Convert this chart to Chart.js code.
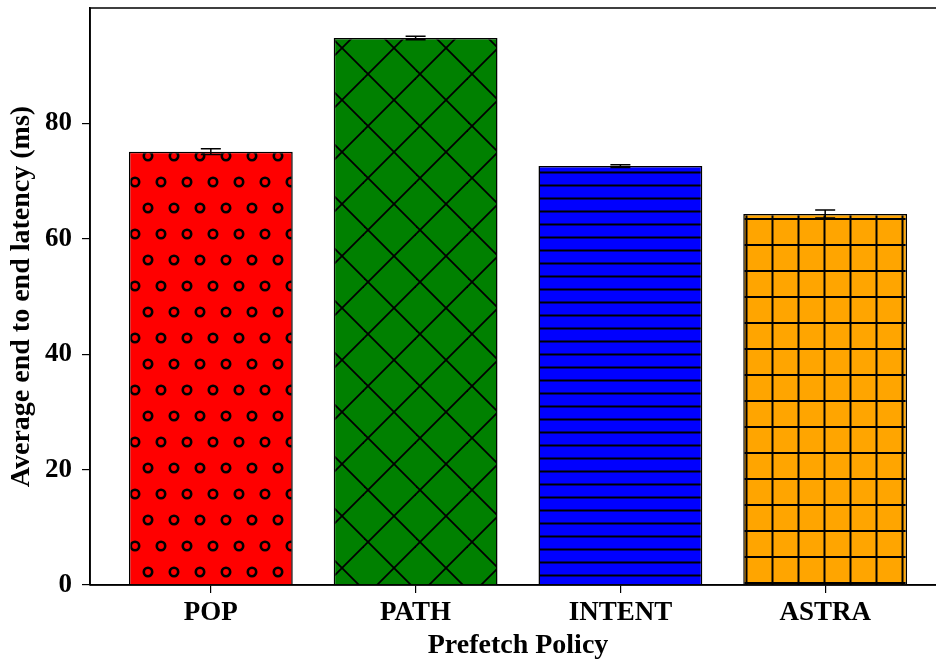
<!DOCTYPE html>
<html>
<head>
<meta charset="utf-8">
<script src="https://cdn.jsdelivr.net/npm/chart.js@4.4.1/dist/chart.umd.min.js"></script>
<style>
html,body{margin:0;padding:0;background:#fff;overflow:hidden;}
#wrap{width:960px;height:660px;}
</style>
</head>
<body>
<div id="wrap"><canvas id="c" width="960" height="660"></canvas></div>
<script>
const categories = ["POP", "PATH", "INTENT", "ASTRA"];
const latency = [75.1, 94.8, 72.6, 64.3];
const latencyErr = [0.5, 0.3, 0.25, 0.7];
const yTicks = [0, 20, 40, 60, 80];
const barColors = ["#ff0000", "#008000", "#0000ff", "#ffa500"];

function tile(w, h, bg, draw) {
  const c = document.createElement('canvas');
  c.width = w; c.height = h;
  const g = c.getContext('2d');
  g.fillStyle = bg; g.fillRect(0, 0, w, h);
  g.strokeStyle = '#000'; g.lineWidth = 2;
  draw(g, w, h);
  return document.getElementById('c').getContext('2d').createPattern(c, 'repeat');
}
function circles(g, w, h) {
  g.lineWidth = 2.6;
  const pts = [[18, 0], [5, 26]];
  for (const [px, py] of pts)
    for (let dx = -w; dx <= w; dx += w)
      for (let dy = -h; dy <= h; dy += h) {
        g.beginPath(); g.arc(px + dx, py + dy, 4.2, 0, Math.PI * 2); g.stroke();
      }
}
function cross(g, w, h) {
  g.lineWidth = 1.8;
  for (let k = -3; k <= 3; k++) {
    g.beginPath(); g.moveTo(-20, -20 + 18 + 52 * k); g.lineTo(80, 80 + 18 + 52 * k); g.stroke();
    g.beginPath(); g.moveTo(-20, 20 + 26 + 52 * k); g.lineTo(80, -80 + 26 + 52 * k); g.stroke();
  }
}
function hlines(g, w, h) {
  g.beginPath(); g.moveTo(0, 3.5); g.lineTo(w, 3.5); g.stroke();
}
function grid(g, w, h) {
  g.beginPath(); g.moveTo(18.5, 0); g.lineTo(18.5, h); g.stroke();
  g.beginPath(); g.moveTo(0, 11); g.lineTo(w, 11); g.stroke();
}
const patterns = [
  tile(26, 52, barColors[0], circles),
  tile(52, 52, barColors[1], cross),
  tile(13, 13, barColors[2], hlines),
  tile(26, 26, barColors[3], grid)
];

const errorBars = {
  id: 'errorBars',
  afterDatasetsDraw(chart) {
    const ctx = chart.ctx, xs = chart.scales.x, ys = chart.scales.y;
    ctx.save();
    ctx.strokeStyle = '#000'; ctx.lineWidth = 1.5;
    latency.forEach((v, i) => {
      const x = xs.getPixelForValue(i);
      const t = ys.getPixelForValue(v + latencyErr[i]);
      const b = ys.getPixelForValue(v - latencyErr[i]);
      ctx.beginPath();
      ctx.moveTo(x, t); ctx.lineTo(x, b);
      ctx.moveTo(x - 10, t); ctx.lineTo(x + 10, t);
      ctx.moveTo(x - 10, b); ctx.lineTo(x + 10, b);
      ctx.stroke();
    });
    ctx.restore();
  }
};
const frame = {
  id: 'frame',
  afterDraw(chart) {
    const a = chart.chartArea, ctx = chart.ctx;
    ctx.save();
    ctx.strokeStyle = '#000'; ctx.lineWidth = 1.6;
    ctx.beginPath();
    ctx.moveTo(a.left, a.bottom); ctx.lineTo(a.left, a.top); ctx.lineTo(a.right, a.top); ctx.lineTo(a.right, a.bottom); ctx.lineTo(a.left, a.bottom);
    ctx.stroke();
    ctx.restore();
  }
};
function noPad(s) { s.paddingTop = 0; s.paddingBottom = 0; s.paddingLeft = 0; s.paddingRight = 0; }

const font = 'Liberation Serif';
new Chart(document.getElementById('c'), {
  type: 'bar',
  data: {
    datasets: [{
      data: latency.map((v, i) => ({x: i, y: v})),
      backgroundColor: patterns,
      borderColor: '#000',
      borderWidth: 1.5,
      barPercentage: 0.8,
      categoryPercentage: 1.0
    }]
  },
  options: {
    responsive: false,
    devicePixelRatio: 1,
    animation: false,
    layout: {padding: {top: 8, right: 14, left: 0, bottom: 0}},
    plugins: {legend: {display: false}, tooltip: {enabled: false}},
    scales: {
      x: {
        type: 'linear',
        offset: false,
        min: -0.59, max: 3.59,
        afterFit(s) { s.height = 75; noPad(s); },
        afterBuildTicks(s) { s.ticks = categories.map((c, i) => ({value: i})); },
        grid: {display: true, offset: false, drawOnChartArea: false, drawTicks: true, tickLength: 8, color: '#000', lineWidth: 1.2},
        border: {display: true, color: '#000', width: 1.6},
        ticks: {
          callback: v => categories[v],
          color: '#000', padding: 4,
          font: {family: font, size: 27, weight: 'bold'},
          maxRotation: 0, autoSkip: false
        },
        title: {display: true, text: 'Prefetch Policy', color: '#000',
          font: {family: font, size: 28, weight: 'bold', lineHeight: 1}, padding: {top: 0, bottom: 0}}
      },
      y: {
        min: 0, max: 100,
        afterFit(s) { s.width = 90; noPad(s); },
        afterBuildTicks(s) { s.ticks = yTicks.map(v => ({value: v})); },
        grid: {display: true, drawOnChartArea: false, drawTicks: true, tickLength: 8, color: '#000', lineWidth: 1.2},
        border: {display: true, color: '#000', width: 1.6},
        ticks: {
          color: '#000', padding: 10,
          font: {family: font, size: 27, weight: 'bold'}
        },
        title: {display: true, text: 'Average end to end latency (ms)', color: '#000',
          font: {family: font, size: 28, weight: 'bold', lineHeight: 1}, padding: {top: 8, bottom: 0}}
      }
    }
  },
  plugins: [errorBars, frame]
});
</script>
</body>
</html>
